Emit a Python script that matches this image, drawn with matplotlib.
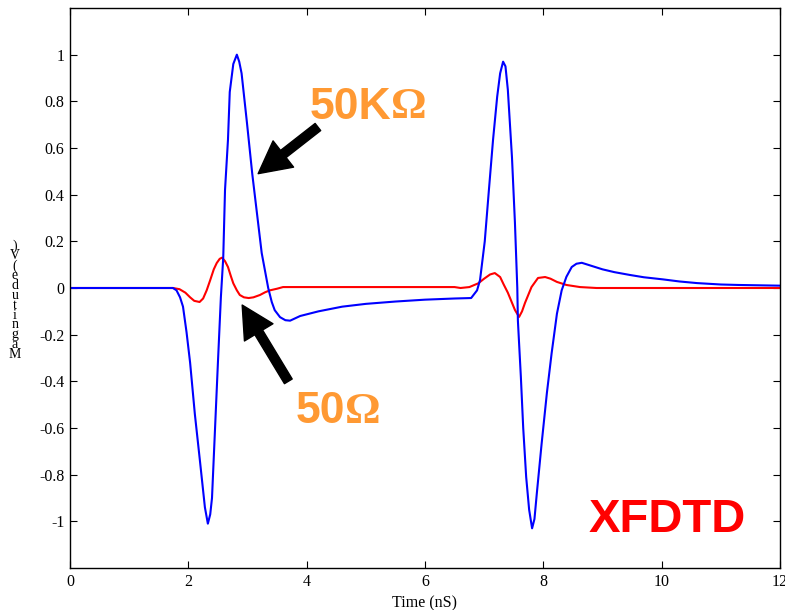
import matplotlib
matplotlib.use('Agg')
import matplotlib.pyplot as plt

# values
t_50k = [0, 1.6, 1.74, 1.8, 1.86, 1.91, 1.97, 2.03, 2.11, 2.2, 2.28, 2.33, 2.37, 2.4, 2.45,
         2.5, 2.55, 2.59, 2.62, 2.67, 2.7, 2.76, 2.82, 2.86, 2.9, 2.99, 3.08, 3.16, 3.24, 3.35,
         3.41, 3.46, 3.55, 3.64, 3.72, 3.89, 4.2, 4.6, 5.0, 5.5, 6.0, 6.5, 6.78, 6.88, 6.93,
         7.01, 7.08, 7.15, 7.22, 7.27, 7.32, 7.36, 7.4, 7.47, 7.52, 7.56, 7.57, 7.62, 7.66, 7.71,
         7.76, 7.81, 7.85, 7.89, 7.97, 8.06, 8.14, 8.23, 8.31, 8.39, 8.48, 8.56, 8.65, 8.75, 8.9,
         9.0, 9.2, 9.46, 9.7, 10.02, 10.3, 10.6, 11.0, 11.3, 12.0]
v_50k = [0, 0, 0, -0.01, -0.04, -0.08, -0.19, -0.32, -0.54, -0.75, -0.94, -1.01, -0.97, -0.9, -0.61,
         -0.32, -0.04, 0.13, 0.42, 0.635, 0.84, 0.96, 1.0, 0.97, 0.92, 0.71, 0.49, 0.32, 0.15, 0.0,
         -0.06, -0.095, -0.125, -0.138, -0.14, -0.12, -0.1, -0.08, -0.068, -0.058, -0.05, -0.045, -0.043, -0.01, 0.034,
         0.2, 0.42, 0.635, 0.82, 0.92, 0.97, 0.95, 0.85, 0.56, 0.28, 0.0, -0.14, -0.38, -0.6, -0.81,
         -0.95, -1.03, -0.99, -0.88, -0.67, -0.45, -0.28, -0.11, -0.01, 0.048, 0.09, 0.104, 0.108, 0.1, 0.088,
         0.08, 0.068, 0.056, 0.046, 0.037, 0.028, 0.021, 0.015, 0.013, 0.01]

t_50 = [0, 1.74, 1.85, 1.95, 2.03, 2.1, 2.19, 2.25, 2.31, 2.37, 2.43, 2.48, 2.53, 2.57, 2.62,
        2.67, 2.72, 2.76, 2.82, 2.87, 2.94, 3.02, 3.1, 3.21, 3.3, 3.38, 3.5, 3.6, 6.5, 6.6,
        6.75, 6.9, 7.0, 7.1, 7.18, 7.27, 7.33, 7.4, 7.52, 7.59, 7.64, 7.69, 7.8, 7.91, 8.03,
        8.12, 8.23, 8.39, 8.62, 8.9, 12.0]
v_50 = [0, 0, -0.005, -0.02, -0.04, -0.055, -0.06, -0.045, -0.01, 0.034, 0.08, 0.107, 0.125, 0.13, 0.115,
        0.09, 0.05, 0.02, -0.01, -0.03, -0.04, -0.043, -0.04, -0.03, -0.018, -0.01, -0.003, 0.004, 0.004, 0.0,
        0.004, 0.02, 0.04, 0.058, 0.064, 0.047, 0.015, -0.02, -0.094, -0.124, -0.1, -0.064, 0.004, 0.043, 0.047,
        0.04, 0.026, 0.013, 0.004, 0.0, 0.0]

x_ticks = [0, 2, 4, 6, 8, 10, 12]
y_ticks = [-1, -0.8, -0.6, -0.4, -0.2, 0, 0.2, 0.4, 0.6, 0.8, 1]
y_tick_labels = ['-1', '-0.8', '-0.6', '-0.4', '-0.2', '0', '0.2', '0.4', '0.6', '0.8', '1']

orange = '#FF9933'
serif = 'Liberation Serif'
sans = 'Liberation Sans'

fig = plt.figure(figsize=(7.85, 6.10), dpi=100)
ax = fig.add_axes([70/785, 42/610, 710/785, 560/610])

ax.plot(t_50, v_50, color='#FF0000', lw=1.5)
ax.plot(t_50k, v_50k, color='#0000FF', lw=1.5)

ax.set_xlim(0, 12)
ax.set_ylim(-1.2, 1.2)
ax.set_xticks(x_ticks)
ax.set_yticks(y_ticks)
ax.set_yticklabels(y_tick_labels)
ax.tick_params(direction='in', top=True, right=True, length=5, width=0.8,
               labelsize=11.5, pad=4)
for lbl in ax.get_xticklabels() + ax.get_yticklabels():
    lbl.set_family(serif)
for s in ax.spines.values():
    s.set_linewidth(1.0)

ax.set_xlabel('Time (nS)', family=serif, fontsize=11.5, labelpad=4)
# stacked, garbled y label as in the source picture
fig.text(15/785, 1 - 300/610, '\n'.join(reversed('Magnitude (V)'.replace(' ', ''))),
         family=serif, fontsize=10, linespacing=0.68, ha='center', va='center')

# arrows
ax.annotate('', xy=(3.18, 0.49), xytext=(4.19, 0.69),
            arrowprops=dict(facecolor='black', edgecolor='black', width=6.5,
                            headwidth=24, headlength=23, shrink=0))
ax.annotate('', xy=(2.91, -0.073), xytext=(3.69, -0.40),
            arrowprops=dict(facecolor='black', edgecolor='black', width=6.5,
                            headwidth=24, headlength=23, shrink=0))

# labels
ax.text(5.43, 0.775, '50K', color=orange, family=sans, weight='bold', fontsize=32,
        ha='right', va='center')
ax.text(5.43, 0.775, 'Ω', color=orange, family=serif, weight='bold', fontsize=32,
        ha='left', va='center')
ax.text(4.65, -0.53, '50', color=orange, family=sans, weight='bold', fontsize=32,
        ha='right', va='center')
ax.text(4.65, -0.53, 'Ω', color=orange, family=serif, weight='bold', fontsize=32,
        ha='left', va='center')
ax.text(10.09, -0.995, 'XFDTD', color='#FF0000', family=sans, weight='bold', fontsize=34,
        ha='center', va='center')

fig.savefig('out.png', dpi=100)
